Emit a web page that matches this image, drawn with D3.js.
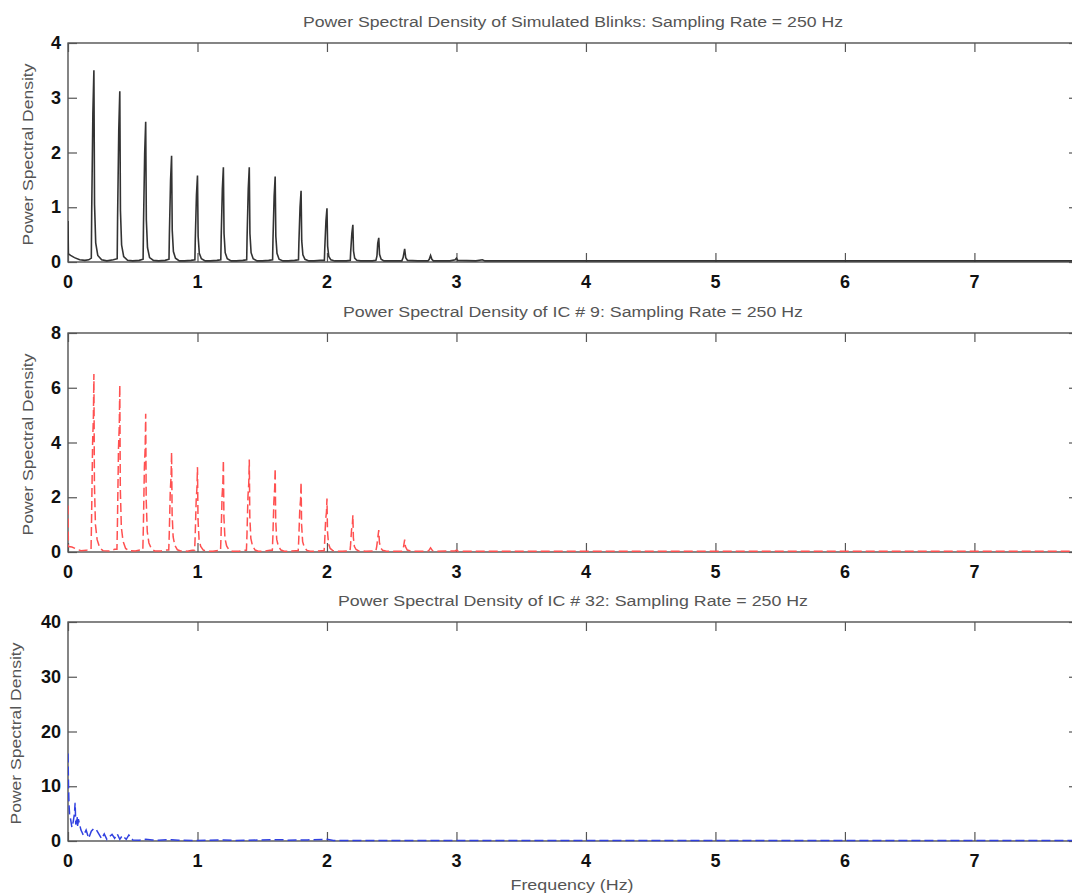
<!DOCTYPE html>
<html>
<head>
<meta charset="utf-8">
<script src="https://cdn.jsdelivr.net/npm/d3@7"></script>
<style>
  body { margin: 0; background: #fff; }
  svg { display: block; }
  .tick-label { font-family: "Liberation Sans", Arial, Helvetica, sans-serif; font-size: 18px; font-weight: bold; fill: #111; }
  .title, .ylabel, .xlabel { font-family: "Liberation Sans", Arial, Helvetica, sans-serif; font-size: 14px; fill: #555; }
</style>
</head>
<body>
<div class="svg-container"></div>
<script>
const xTicks = [0, 1, 2, 3, 4, 5, 6, 7]
const xMax = 7.8

const titles = [
  'Power Spectral Density of Simulated Blinks: Sampling Rate = 250 Hz',
  'Power Spectral Density of IC # 9: Sampling Rate = 250 Hz',
  'Power Spectral Density of IC # 32: Sampling Rate = 250 Hz'
]
const yMaxes = [4, 8, 40]
const yTickSets = [
  [0, 1, 2, 3, 4],
  [0, 2, 4, 6, 8],
  [0, 10, 20, 30, 40]
]

// [frequency (Hz), psd]
const blinkPsd = [
  [0, 0.75], [0.003, 0.15], [0.02, 0.12], [0.05, 0.08], [0.09, 0.04], [0.13, 0.03], [0.16, 0.04],
  [0.18, 0.07], [0.183, 0.91], [0.192, 2.7], [0.2, 3.5], [0.205, 1.05], [0.214, 0.35], [0.23, 0.12], [0.26, 0.04], [0.3, 0.02], [0.35, 0.04],
  [0.38, 0.06], [0.383, 0.81], [0.392, 2.4], [0.4, 3.12], [0.405, 0.94], [0.414, 0.31], [0.43, 0.1], [0.46, 0.03], [0.5, 0.02], [0.55, 0.03],
  [0.58, 0.05], [0.583, 0.67], [0.592, 1.97], [0.6, 2.56], [0.605, 0.77], [0.614, 0.26], [0.63, 0.08], [0.66, 0.03], [0.7, 0.02], [0.75, 0.03],
  [0.78, 0.05], [0.783, 0.5], [0.792, 1.49], [0.8, 1.94], [0.805, 0.58], [0.814, 0.19], [0.83, 0.07], [0.86, 0.02], [0.9, 0.02], [0.95, 0.03],
  [0.98, 0.04], [0.983, 0.41], [0.992, 1.22], [1.0, 1.58], [1.005, 0.47], [1.014, 0.16], [1.03, 0.06], [1.06, 0.02], [1.1, 0.02], [1.15, 0.03],
  [1.18, 0.04], [1.183, 0.45], [1.192, 1.33], [1.2, 1.73], [1.205, 0.52], [1.214, 0.17], [1.23, 0.06], [1.26, 0.02], [1.3, 0.02], [1.35, 0.03],
  [1.38, 0.04], [1.383, 0.45], [1.392, 1.33], [1.4, 1.73], [1.405, 0.52], [1.414, 0.17], [1.43, 0.06], [1.46, 0.02], [1.5, 0.02], [1.55, 0.03],
  [1.58, 0.04], [1.583, 0.41], [1.592, 1.2], [1.6, 1.56], [1.605, 0.47], [1.614, 0.16], [1.63, 0.05], [1.66, 0.02], [1.7, 0.02], [1.75, 0.03],
  [1.78, 0.04], [1.783, 0.34], [1.792, 1.0], [1.8, 1.3], [1.805, 0.39], [1.814, 0.13], [1.83, 0.05], [1.86, 0.02], [1.9, 0.02], [1.95, 0.03],
  [1.98, 0.03], [1.983, 0.25], [1.992, 0.75], [2.0, 0.98], [2.005, 0.29], [2.014, 0.1], [2.03, 0.04], [2.06, 0.02], [2.1, 0.02], [2.15, 0.02],
  [2.18, 0.03], [2.183, 0.18], [2.192, 0.52], [2.2, 0.68], [2.205, 0.2], [2.214, 0.07], [2.23, 0.03], [2.26, 0.02], [2.3, 0.02], [2.35, 0.02],
  [2.378, 0.03], [2.386, 0.11], [2.392, 0.34], [2.4, 0.44], [2.406, 0.14], [2.418, 0.05], [2.44, 0.02], [2.5, 0.02], [2.55, 0.02],
  [2.578, 0.02], [2.588, 0.08], [2.6, 0.24], [2.608, 0.08], [2.622, 0.03], [2.7, 0.02], [2.75, 0.02],
  [2.78, 0.02], [2.79, 0.05], [2.8, 0.12], [2.81, 0.05], [2.822, 0.02], [2.95, 0.02],
  [2.99, 0.04], [3.0, 0.07], [3.01, 0.03], [3.15, 0.02], [3.2, 0.04], [3.22, 0.02], [7.8, 0.02]
]

const ic9Psd = [
  [0, 1.7], [0.003, 0.2], [0.03, 0.18], [0.07, 0.1], [0.1, 0.05], [0.14, 0.06], [0.165, 0.1],
  [0.178, 0.1], [0.182, 1.2], [0.19, 4.0], [0.196, 4.9], [0.2, 6.5], [0.204, 2.5], [0.212, 1.0], [0.225, 0.45], [0.245, 0.15], [0.27, 0.05], [0.32, 0.04], [0.36, 0.1],
  [0.378, 0.1], [0.382, 1.1], [0.39, 3.8], [0.396, 4.6], [0.4, 6.1], [0.404, 2.3], [0.412, 0.9], [0.425, 0.4], [0.445, 0.13], [0.47, 0.05], [0.52, 0.04], [0.56, 0.08],
  [0.578, 0.08], [0.582, 0.9], [0.59, 3.1], [0.596, 3.8], [0.6, 5.05], [0.604, 1.9], [0.612, 0.75], [0.625, 0.33], [0.645, 0.11], [0.67, 0.04], [0.72, 0.04], [0.76, 0.07],
  [0.778, 0.07], [0.782, 0.65], [0.79, 2.25], [0.796, 2.75], [0.8, 3.65], [0.804, 1.4], [0.812, 0.55], [0.825, 0.24], [0.845, 0.08], [0.87, 0.04], [0.92, 0.03], [0.96, 0.06],
  [0.978, 0.06], [0.982, 0.55], [0.99, 1.9], [0.996, 2.35], [1.0, 3.1], [1.004, 1.2], [1.012, 0.47], [1.025, 0.2], [1.045, 0.07], [1.07, 0.03], [1.12, 0.03], [1.16, 0.06],
  [1.178, 0.06], [1.182, 0.6], [1.19, 2.05], [1.196, 2.5], [1.2, 3.35], [1.204, 1.3], [1.212, 0.5], [1.225, 0.22], [1.245, 0.07], [1.27, 0.03], [1.32, 0.03], [1.36, 0.06],
  [1.378, 0.06], [1.382, 0.6], [1.39, 2.05], [1.396, 2.5], [1.4, 3.38], [1.404, 1.3], [1.412, 0.5], [1.425, 0.22], [1.445, 0.07], [1.47, 0.03], [1.52, 0.03], [1.56, 0.06],
  [1.578, 0.06], [1.582, 0.55], [1.59, 1.85], [1.596, 2.3], [1.6, 3.05], [1.604, 1.15], [1.612, 0.46], [1.625, 0.2], [1.645, 0.07], [1.67, 0.03], [1.72, 0.03], [1.76, 0.05],
  [1.778, 0.05], [1.782, 0.45], [1.79, 1.55], [1.796, 1.9], [1.8, 2.55], [1.804, 1.0], [1.812, 0.38], [1.825, 0.17], [1.845, 0.06], [1.87, 0.03], [1.92, 0.03], [1.96, 0.05],
  [1.978, 0.05], [1.982, 0.35], [1.99, 1.2], [1.996, 1.45], [2.0, 1.95], [2.004, 0.75], [2.012, 0.3], [2.025, 0.13], [2.045, 0.05], [2.07, 0.03], [2.12, 0.03], [2.16, 0.04],
  [2.178, 0.04], [2.182, 0.25], [2.19, 0.82], [2.196, 1.0], [2.2, 1.35], [2.204, 0.52], [2.212, 0.2], [2.225, 0.09], [2.245, 0.04], [2.3, 0.03], [2.36, 0.04],
  [2.378, 0.04], [2.384, 0.2], [2.392, 0.5], [2.4, 0.8], [2.405, 0.35], [2.415, 0.15], [2.43, 0.06], [2.46, 0.03], [2.56, 0.03],
  [2.58, 0.03], [2.59, 0.15], [2.6, 0.45], [2.606, 0.2], [2.62, 0.07], [2.65, 0.03], [2.76, 0.03],
  [2.785, 0.04], [2.8, 0.15], [2.815, 0.05], [2.85, 0.03],
  [2.99, 0.04], [3.0, 0.07], [3.01, 0.03], [7.8, 0.03]
]

const ic32Psd = [
  [0, 16], [0.004, 10], [0.008, 6.5], [0.012, 5], [0.02, 4], [0.03, 2.5], [0.04, 3.5], [0.05, 5], [0.055, 7], [0.06, 3],
  [0.07, 4.5], [0.075, 2.5], [0.08, 4], [0.09, 3], [0.1, 2], [0.11, 1.5], [0.12, 1], [0.14, 2], [0.16, 0.5], [0.18, 1.8],
  [0.2, 2.3], [0.22, 2], [0.24, 1.2], [0.26, 0.4], [0.28, 1.3], [0.3, 0.3], [0.32, 0.8], [0.34, 1.2], [0.36, 0.5], [0.38, 1.3],
  [0.4, 0.3], [0.42, 1.0], [0.45, 0.3], [0.47, 1.1], [0.5, 0.2], [0.55, 0.15], [0.6, 0.3], [0.65, 0.2], [0.7, 0.15], [0.8, 0.25],
  [0.85, 0.15], [1.0, 0.1], [1.2, 0.2], [1.3, 0.1], [1.65, 0.25], [1.7, 0.15], [1.85, 0.2], [2.0, 0.3], [2.05, 0.1], [2.5, 0.1],
  [3.0, 0.1], [7.8, 0.08]
]

const seriesList = [blinkPsd, ic9Psd, ic32Psd]
const lineColors = ['#333', '#ff5050', '#3040e0']
const lineWidths = [1.6, 1.5, 1.5]
const lineDashes = [null, '9,4', '9,4']

const width = 1072
const height = 895
const left = 68
const plotW = 1010
const plotH = 219
const panelTops = [43, 333, 622]
const titleYs = [27, 317, 606]
const titleWidths = [540, 460, 470]
const ylabelXs = [33, 33, 21]
const tickLen = 9

const svg = d3.select('.svg-container').append('svg')
  .attr('width', width)
  .attr('height', height)

const x = d3.scaleLinear().domain([0, xMax]).range([0, plotW])

svg.append('defs').append('clipPath')
  .attr('id', 'plot-clip')
  .append('rect')
  .attr('width', plotW)
  .attr('height', plotH + 1)

seriesList.forEach((data, i) => drawPanel(data, i))

svg.append('text')
  .attr('class', 'xlabel')
  .attr('x', 572)
  .attr('y', 890)
  .attr('text-anchor', 'middle')
  .attr('textLength', 123)
  .attr('lengthAdjust', 'spacingAndGlyphs')
  .text('Frequency (Hz)')

function drawPanel(data, i) {
  const g = svg.append('g')
    .attr('transform', `translate(${left},${panelTops[i]})`)

  const y = d3.scaleLinear().domain([0, yMaxes[i]]).range([plotH, 0])

  // box
  g.append('rect')
    .attr('width', plotW)
    .attr('height', plotH)
    .style('fill', 'none')
    .style('stroke', '#444')
    .style('stroke-width', 1.3)

  // inward ticks on all four sides
  const bottomAxis = d3.axisTop(x).tickValues(xTicks).tickSize(tickLen).tickFormat('')
  const topAxis = d3.axisBottom(x).tickValues(xTicks).tickSize(tickLen).tickFormat('')
  const leftAxis = d3.axisRight(y).tickValues(yTickSets[i]).tickSize(tickLen).tickFormat('')
  const rightAxis = d3.axisLeft(y).tickValues(yTickSets[i]).tickSize(tickLen).tickFormat('')

  g.append('g').attr('transform', `translate(0,${plotH})`).call(bottomAxis)
  g.append('g').call(topAxis)
  g.append('g').call(leftAxis)
  g.append('g').attr('transform', `translate(${plotW},0)`).call(rightAxis)
  g.selectAll('.domain').remove()
  g.selectAll('.tick line').style('stroke', '#555').style('stroke-width', 1.2)

  // tick labels
  g.selectAll('.xtl')
    .data(xTicks)
    .enter()
    .append('text')
    .attr('class', 'tick-label')
    .attr('x', d => x(d))
    .attr('y', plotH + 26)
    .attr('text-anchor', 'middle')
    .text(d => d)

  g.selectAll('.ytl')
    .data(yTickSets[i])
    .enter()
    .append('text')
    .attr('class', 'tick-label')
    .attr('x', -7)
    .attr('y', d => y(d) + 6)
    .attr('text-anchor', 'end')
    .text(d => d)

  const line = d3.line()
    .x(d => x(d[0]))
    .y(d => y(d[1]))

  g.append('path')
    .datum(data)
    .attr('clip-path', 'url(#plot-clip)')
    .attr('d', line)
    .style('fill', 'none')
    .style('stroke', lineColors[i])
    .style('stroke-width', lineWidths[i])
    .style('stroke-dasharray', lineDashes[i])

  svg.append('text')
    .attr('class', 'title')
    .attr('x', left + plotW / 2)
    .attr('y', titleYs[i])
    .attr('text-anchor', 'middle')
    .attr('textLength', titleWidths[i])
    .attr('lengthAdjust', 'spacingAndGlyphs')
    .text(titles[i])

  svg.append('text')
    .attr('class', 'ylabel')
    .attr('transform', `translate(${ylabelXs[i]},${panelTops[i] + plotH / 2 + 2}) rotate(-90)`)
    .attr('text-anchor', 'middle')
    .attr('textLength', 182)
    .attr('lengthAdjust', 'spacingAndGlyphs')
    .text('Power Spectral Density')
}
</script>
</body>
</html>
